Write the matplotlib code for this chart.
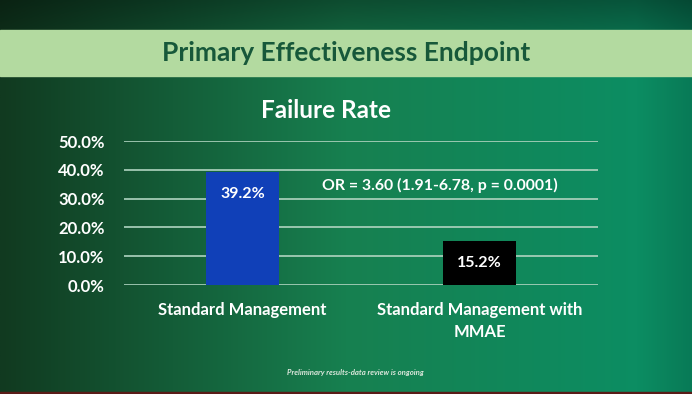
import numpy as np
import matplotlib.pyplot as plt
from matplotlib.colors import to_rgb

categories = ['Standard Management', 'Standard Management with\nMMAE']
rates = [39.2, 15.2]
bar_colors = ['#1040b8', '#000000']
yticks = [0, 10, 20, 30, 40, 50]

W, H = 692, 394
fig = plt.figure(figsize=(W / 100, H / 100), dpi=100)

# background: dark green at left, teal at right, darker top edge
bg = fig.add_axes([0, 0, 1, 1], zorder=-10)
xs = np.linspace(0, 1, 300)
ys = np.linspace(0, 1, 200)
c_left = np.array(to_rgb('#113a20'))
c_mid = np.array(to_rgb('#178050'))
c_right = np.array(to_rgb('#0a9066'))
t = xs[None, :, None]
row = np.where(t < 0.5, c_left + (c_mid - c_left) * (t / 0.5),
               c_mid + (c_right - c_mid) * ((t - 0.5) / 0.5))
img = np.repeat(row, len(ys), axis=0)
vy = ys[:, None, None]
dark = 1 - 0.4 * np.clip((vy - 0.8) / 0.2, 0, 1)
img = img * dark
# fade right edge a little
img = img * (1 - 0.15 * np.clip((t - 0.92) / 0.08, 0, 1))
bg.imshow(img, origin='lower', extent=[0, 1, 0, 1], aspect='auto')
bg.set_xlim(0, 1)
bg.set_ylim(0, 1)
bg.axis('off')

# light green banner
bg.axhspan(1 - 76 / H, 1 - 30 / H, color='#b3daa0', zorder=2)
bg.axhspan(0, 2 / H, color='#5a1c18', zorder=2)
bg.text(0.5, 1 - 53 / H, 'Primary Effectiveness Endpoint', ha='center', va='center',
        fontsize=19, fontweight='bold', color='#17583a', family='Lato', zorder=3)
bg.text(326 / W, 1 - 110 / H, 'Failure Rate', ha='center', va='center',
        fontsize=17.5, fontweight='bold', color='white', family='Lato', zorder=3)
bg.text(355 / W, 1 - 373 / H, 'Preliminary results-data review is ongoing', ha='center',
        va='center', fontsize=5.6, style='italic', fontweight='bold', color='#dde8dd',
        family='Lato', zorder=3)

ax = fig.add_axes([124 / W, 1 - 285 / H, 474 / W, 144 / H])
ax.set_facecolor('none')
x = np.arange(len(categories))
bars = ax.bar(x, rates, width=0.31, color=bar_colors, zorder=3)
for b, r in zip(bars, rates):
    ax.text(b.get_x() + b.get_width() / 2, r - 7.7, f'{r:.1f}%', ha='center', va='center',
            color='white', fontsize=11.5, fontweight='bold', family='Lato', zorder=4)
ax.text(0.667, 34.6, 'OR = 3.60 (1.91-6.78, p = 0.0001)', transform=ax.get_yaxis_transform(),
        ha='center', va='center', color='white', fontsize=11.4, fontweight='bold', family='Lato')

ax.set_xlim(-0.5, 1.5)
ax.set_ylim(0, 50)
ax.set_yticks(yticks)
ax.set_yticklabels([f'{v:.1f}%' for v in yticks])
ax.yaxis.grid(True, color='#b0d4c0', lw=1.2, zorder=0)
ax.set_xticks(x)
ax.set_xticklabels(categories, linespacing=1.45)
for lab in ax.get_xticklabels() + ax.get_yticklabels():
    lab.set_color('white')
    lab.set_fontweight('bold')
    lab.set_family('Lato')
    lab.set_fontsize(12)
ax.tick_params(length=0)
ax.tick_params(axis='y', pad=14)
ax.tick_params(axis='x', pad=12)
for s in ax.spines.values():
    s.set_visible(False)

fig.savefig('out.png', dpi=100)
